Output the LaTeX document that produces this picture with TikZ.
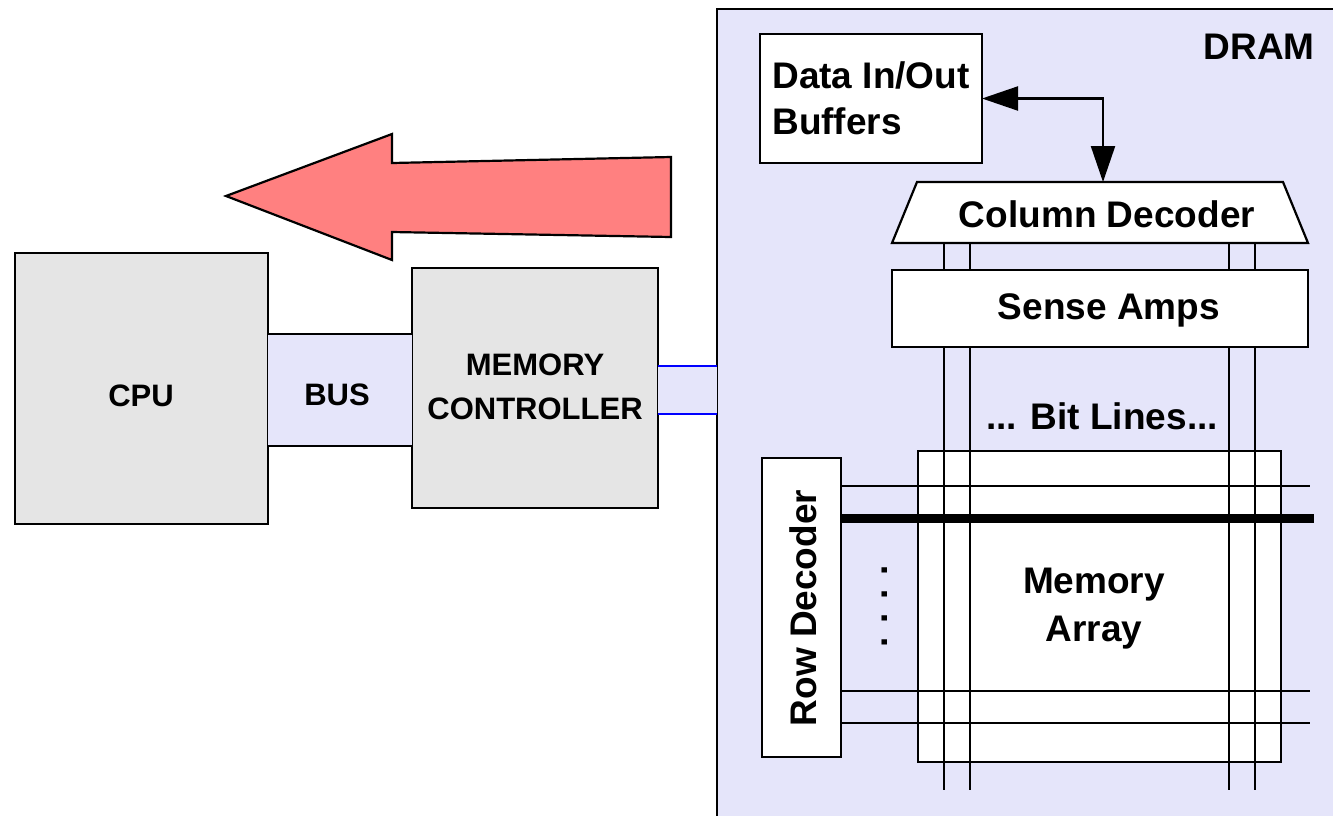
\documentclass[tikz,border=0pt]{standalone}
\usepackage{fontspec}
\setmainfont{Liberation Sans}
\usetikzlibrary{arrows.meta}
\definecolor{chipgray}{HTML}{E5E5E5}
\definecolor{dramfill}{HTML}{E5E5FA}
\definecolor{hotarrow}{HTML}{FF8080}
\begin{document}
\begin{tikzpicture}[x=1pt,y=-1pt,
  box/.style={draw, line width=2.2pt, inner sep=0pt, outer sep=0pt},
  wire/.style={line width=2.4pt},
  thickwire/.style={line width=9pt},
  bigtext/.style={font=\fontsize{37}{46}\selectfont\bfseries, inner sep=0pt},
  smalltext/.style={font=\fontsize{31}{44}\selectfont\bfseries, inner sep=0pt, align=center},
  bigtip/.tip={Triangle[length=36pt,width=24pt]}]
\useasboundingbox (0,0) rectangle (1333,815);

% DRAM chip outline (runs off the right and bottom edges)
\node[box, fill=dramfill, minimum width=628pt, minimum height=816pt] (dram) at (1031,417) {};
\node[bigtext, anchor=east] (dramlabel) at (1315,47) {DRAM};

% data flow arrow back to the processor
\draw[line width=2.2pt, fill=hotarrow] (226,196) -- (392,134) -- (392,163) -- (671,157)
  -- (671,237) -- (392,232) -- (392,260) -- cycle;

% CPU, bus and memory controller
\node[box, fill=chipgray, minimum width=253pt, minimum height=271pt] (cpu) at (141.5,388.5) {};
\node[box, fill=chipgray, minimum width=246pt, minimum height=240pt] (mc) at (535,388) {};
\fill[dramfill] (cpu.east |- 0,334) rectangle (mc.west |- 0,446);
\draw[line width=2pt] (cpu.east |- 0,334) -- (mc.west |- 0,334);
\draw[line width=2pt] (cpu.east |- 0,446) -- (mc.west |- 0,446);
\node[smalltext] (cputext) at (141,396) {CPU};
\node[smalltext] (bustext) at (337,395) {BUS};
\node[smalltext] (mctext) at (535,387) {MEMORY\\CONTROLLER};

% controller to DRAM link
\fill[dramfill] (mc.east |- 0,366) rectangle (dram.west |- 0,414);
\draw[line width=2.4pt, blue] (mc.east |- 0,366) -- (dram.west |- 0,366);
\draw[line width=2.4pt, blue] (mc.east |- 0,414) -- (dram.west |- 0,414);

% memory array with bit lines and word lines
\node[box, fill=white, minimum width=363pt, minimum height=311pt] (array) at (1099.5,606.5) {};
\node[bigtext, align=center, font=\fontsize{37}{48}\selectfont\bfseries] (arraytext) at (1094,609) {Memory\\Array};

% column decoder: a trapezium, narrower on top
\node[inner sep=0pt, outer sep=0pt, minimum width=416pt, minimum height=61pt] (coldec) at (1100,212.5) {};
\draw[line width=2.2pt, fill=white] ([xshift=25pt]coldec.north west) -- ([xshift=-25pt]coldec.north east)
  -- (coldec.south east) -- (coldec.south west) -- cycle;
\node[bigtext] (coldectext) at (1107,214) {Column Decoder};

\foreach \x in {944,970,1229,1255}
  \draw[wire] (coldec.south -| \x,0) -- (\x,790);

\node[box, fill=white, minimum width=416pt, minimum height=77pt] (sense) at (1100,308.5) {};
\node[bigtext] (sensetext) at (1109,310) {Sense Amps};
\node[bigtext] (bittext) at (1102,416) {... Bit Lines...};

\node[box, fill=white, minimum width=79pt, minimum height=299pt] (rowdec) at (801.5,607.5) {};
\node[bigtext, rotate=90] (rowdectext) at (803,608) {Row Decoder};
\node[bigtext, rotate=90, anchor=base] (rowdots) at (887,606) {. . . .};

\foreach \y in {486,691,723}
  \draw[wire] (rowdec.east |- 0,\y) -- (1310,\y);
\draw[thickwire] (rowdec.east |- 0,518) -- (1314,518);

% data buffers and their link to the column decoder
\node[box, fill=white, minimum width=222pt, minimum height=129pt, bigtext, align=left] (data) at (871,98.5) {Data In/Out\\Buffers};
\draw[line width=2.2pt, bigtip-bigtip] (data.east) -| ([xshift=3pt]coldec.north);
\end{tikzpicture}
\end{document}
